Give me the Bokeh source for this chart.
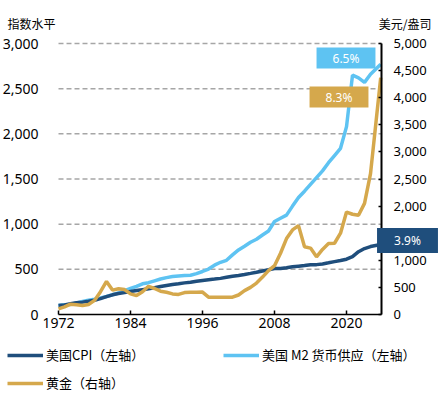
from bokeh.plotting import figure
from bokeh.models import (Range1d, LinearAxis, FixedTicker, Label, Legend,
                          LegendItem, NumeralTickFormatter)
from bokeh.embed import file_html
from bokeh.resources import INLINE

# ---------------- data ----------------
years = [1972, 1973, 1974, 1975, 1976, 1977, 1978, 1979, 1980, 1981,
         1982, 1983, 1984, 1985, 1986, 1987, 1988, 1989, 1990, 1991,
         1992, 1993, 1994, 1995, 1996, 1997, 1998, 1999, 2000, 2001,
         2002, 2003, 2004, 2005, 2006, 2007, 2008, 2009, 2010, 2011,
         2012, 2013, 2014, 2015, 2016, 2017, 2018, 2019, 2020, 2021,
         2022, 2023, 2024, 2025.7]
cpi = [100, 106, 118, 129, 137, 146, 158, 176, 198, 218,
       232, 242, 255, 265, 275, 285, 296, 310, 322, 332,
       340, 350, 358, 368, 377, 385, 392, 400, 412, 424,
       432, 442, 455, 468, 482, 495, 510, 510, 518, 528,
       535, 542, 550, 552, 560, 572, 585, 598, 612, 640,
       695, 730, 752, 775]
m2 = [100, 107, 112, 127, 144, 158, 170, 184, 199, 219,
      238, 265, 288, 311, 340, 352, 373, 393, 408, 420,
      427, 433, 435, 453, 476, 503, 546, 578, 600, 660,
      715, 756, 800, 833, 880, 925, 1030, 1065, 1100, 1200,
      1295, 1365, 1440, 1515, 1590, 1680, 1760, 1840, 2080, 2650,
      2620, 2570, 2660, 2770]
gold = [105, 140, 190, 180, 165, 185, 260, 420, 610, 450,
        475, 460, 380, 350, 420, 520, 480, 430, 410, 380,
        370, 405, 410, 412, 413, 320, 320, 320, 320, 320,
        360, 440, 500, 580, 690, 810, 900, 1130, 1400, 1560,
        1640, 1250, 1225, 1065, 1200, 1310, 1315, 1500, 1890, 1850,
        1830, 2050, 2600, 4370]

x_ticks = [1972, 1984, 1996, 2008, 2020]
left_ticks = [0, 500, 1000, 1500, 2000, 2500, 3000]
grid_ticks = [500, 1000, 1500, 2000, 2500, 3000]
right_ticks = [0, 500, 1000, 1500, 2000, 2500, 3000, 3500, 4000, 4500, 5000]

series_names = ["美国CPI（左轴）", "美国 M2 货币供应（左轴）", "黄金（右轴）"]
cagr_text = ["3.9%", "6.5%", "8.3%"]
left_title = "指数水平"
right_title = "美元/盎司"

X_MIN, X_MAX = 1972, 2025.83      # axis extent
L_MIN, L_MAX = 0, 3000            # left axis extent
R_MIN, R_MAX = 0, 5000            # right axis extent

C_CPI = "#1f4e7c"
C_M2 = "#5ec3f2"
C_GOLD = "#d5a84c"
GRID = "#a6a6a6"
FONT = "Noto Sans CJK SC"
NUMFONT = "Noto Sans"

# ---------------- layout (pixels) ----------------
W, H = 438, 396
PL, PR, PT, PB = 58, 381, 43, 314   # plot area edges on the canvas

xs = (X_MAX - X_MIN) / (PR - PL)          # data units per px
ls = (L_MAX - L_MIN) / (PB - PT)
rs = (R_MAX - R_MIN) / (PB - PT)
x_range = Range1d(X_MIN - PL * xs, X_MAX + (W - PR) * xs)
y_range = Range1d(L_MIN - (H - PB) * ls, L_MAX + PT * ls)
r_range = Range1d(R_MIN - (H - PB) * rs, R_MAX + PT * rs)

def px_x(px):
    return x_range.start + px * xs

def px_y(py):
    return y_range.end - py * ls

p = figure(width=W, height=H, output_backend="svg", toolbar_location=None,
           x_range=x_range, y_range=y_range,
           x_axis_location=None, y_axis_location=None,
           min_border_left=0, min_border_right=0, min_border_top=0,
           min_border_bottom=0)
p.outline_line_color = None
p.background_fill_color = "white"
p.border_fill_color = "white"
p.xgrid.visible = False
p.ygrid.visible = False
p.extra_y_ranges = {"gold": r_range}

# grid lines (dashed, plot area only)
p.segment(x0=[X_MIN] * len(grid_ticks), x1=[X_MAX] * len(grid_ticks),
          y0=grid_ticks, y1=grid_ticks, line_color=GRID, line_width=1.5,
          line_dash="5 3")

# left axis
ya = LinearAxis(ticker=FixedTicker(ticks=left_ticks),
                formatter=NumeralTickFormatter(format="0,0"),
                fixed_location=X_MIN, bounds=(L_MIN, L_MAX))
ya.axis_line_color = None
ya.major_tick_line_color = None
ya.minor_tick_line_color = None
ya.major_label_standoff = 14
ya.major_label_text_font = NUMFONT
ya.major_label_text_font_size = "14px"
ya.major_label_text_color = "black"
p.add_layout(ya, "left")

# bottom axis
xa = LinearAxis(ticker=FixedTicker(ticks=x_ticks), fixed_location=L_MIN,
                bounds=(X_MIN, X_MAX))
xa.axis_line_color = "black"
xa.axis_line_width = 1.5
xa.major_tick_line_color = "black"
xa.major_tick_line_width = 1.5
xa.major_tick_in = 4
xa.major_tick_out = 0
xa.minor_tick_line_color = None
xa.major_label_standoff = 3
xa.major_label_text_font = NUMFONT
xa.major_label_text_font_size = "14px"
xa.major_label_text_color = "black"
p.add_layout(xa, "below")

# right axis
ra = LinearAxis(y_range_name="gold", ticker=FixedTicker(ticks=right_ticks),
                formatter=NumeralTickFormatter(format="0,0"),
                fixed_location=X_MAX, bounds=(R_MIN, R_MAX))
ra.axis_line_color = "black"
ra.axis_line_width = 2
ra.major_tick_line_color = "black"
ra.major_tick_line_width = 1.5
ra.major_tick_in = 3
ra.major_tick_out = 0
ra.minor_tick_line_color = None
ra.major_label_standoff = 12
ra.major_label_text_font = NUMFONT
ra.major_label_text_font_size = "13px"
ra.major_label_text_color = "black"
p.add_layout(ra, "right")

# lines
r_m2 = p.line(years, m2, line_color=C_M2, line_width=3.5)
r_cpi = p.line(years, cpi, line_color=C_CPI, line_width=3.5)
r_gold = p.line(years, gold, line_color=C_GOLD, line_width=3.5, y_range_name="gold")

# legend
legend = Legend(items=[LegendItem(label=series_names[0], renderers=[r_cpi]),
                       LegendItem(label=series_names[1], renderers=[r_m2]),
                       LegendItem(label=series_names[2], renderers=[r_gold])],
                location=(7, 4), orientation="horizontal", ncols=2,
                glyph_width=36, glyph_height=16, label_height=16, label_width=168,
                label_standoff=3, spacing=9, padding=0, margin=0,
                border_line_color=None, background_fill_alpha=0,
                label_text_font=FONT, label_text_font_size="13px",
                label_text_color="black")
p.add_layout(legend, "center")

# axis titles
p.add_layout(Label(x=px_x(7), y=px_y(22.5), text=left_title, text_align="left",
                   text_baseline="middle", text_font=FONT,
                   text_font_size="12px", text_color="black"))
p.add_layout(Label(x=px_x(431), y=px_y(22.5), text=right_title, text_align="right",
                   text_baseline="middle", text_font=FONT,
                   text_font_size="12px", text_color="black"))

# CAGR tags
def tag(cx, cy, txt, col, pad):
    p.add_layout(Label(x=px_x(cx), y=px_y(cy), text=txt, text_align="center",
                       text_baseline="middle", text_font=NUMFONT,
                       text_font_size="12px", text_color="white",
                       background_fill_color=col, padding=pad))

tag(345.5, 57.5, cagr_text[1], C_M2, (16, 2))
tag(338.5, 96.5, cagr_text[2], C_GOLD, (16, 2))
tag(407, 240, cagr_text[0], C_CPI, (17, 4))

open("out.html", "w").write(file_html(p, INLINE))
